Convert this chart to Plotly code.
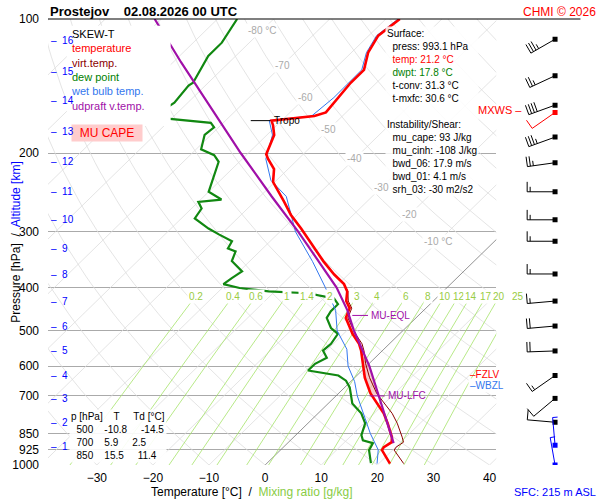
import numpy as np
import plotly.graph_objects as go

SKEW = 35.4
def sx(T, p):
    return np.asarray(T, float) + SKEW * np.log(1000.0 / np.asarray(p, float))

# ---- data ----
t_p = [993, 940, 926, 912, 889, 866, 806, 766, 728, 691, 637, 593, 554, 535, 508, 493, 468, 445, 429, 408, 393, 374, 349,
       295, 275, 257, 232, 217, 206, 201, 182, 173, 169, 165, 162, 139, 130, 119, 109, 100]
t_T = [22.0, 18.9, 18.1, 17.9, 18.4, 17.5, 14.2, 11.7, 8.8, 5.7, 1.8, -1.1, -3.8, -5.4, -8.4, -9.9, -12.5, -13.6, -15.5, -17.1, -19.0, -22.5, -26.9,
       -36.8, -41.1, -44.7, -50.3, -52.5, -55.4, -56.6, -58.7, -60.7, -61.8, -55.0, -53.6, -54.6, -54.6, -57.0, -58.3, -57.5]

td_p = [990, 926, 893, 880, 857, 806, 766, 728, 670, 647, 630, 624, 614, 593, 575, 554, 535, 508, 493, 468, 452, 436, 423, 412,
        408, 401, 393, 381, 368, 349, 332, 327, 315, 304, 295, 280, 266, 257, 254, 244, 224, 209, 202, 196, 182, 175, 171, 166,
        162, 159, 154, 141, 139, 121, 113, 100]
td_T = [18.5, 15.8, 15.2, 12.9, 11.7, 10.2, 7.7, 4.3, 0.9, -1.0, -3.3, -5.7, -9.6, -9.6, -8.6, -10.6, -10.4, -11.0, -13.3, -15.9,
        -16.4, -16.4, -18.2, -23.8, -31.1, -36.9, -40.5, -40.1, -39.5, -43.2, -44.3, -46.2, -46.8, -50.4, -53.3, -57.6, -58.2,
        -60.0, -56.3, -60.0, -62.1, -63.7, -65.7, -69.1, -71.1, -70.8, -72.2, -83.7, -85.9, -82.9, -82.4, -83.0, -82.7, -84.9,
        -84.9, -86.5]

wb_p = [993, 925, 850, 700, 650, 600, 550, 500, 450, 400, 350, 300, 250, 230, 206, 182, 169, 165, 150, 130, 119, 109, 100]
wb_T = [19.7, 17.4, 13.0, 3.8, 0.7, -3.3, -6.6, -11.7, -15.7, -21.7, -28.7, -37.2, -45.3, -51.0, -55.8, -59.0, -62.2, -55.5,
        -54.9, -55.0, -57.3, -58.6, -57.8]

pc_p = [893, 700, 600, 500, 450, 400, 350, 300, 250, 200, 150, 125, 100]
pc_T = [18.9, 7.6, 0.5, -8.7, -13.6, -19.7, -27.6, -36.7, -47.9, -61.3, -78.0, -88.6, -101.2]

mix_vals = [0.2, 0.4, 0.6, 1, 1.4, 2, 3, 4, 6, 8, 10, 12, 14, 17, 20, 25]
mix_labels = ["0.2", "0.4", "0.6", "1", "1.4", "2", "3", "4", "6", "8", "10", "12", "14", "17", "20", "25"]

p_ticks = [100, 200, 300, 400, 500, 600, 700, 850, 925, 1000]
x_ticks = [-30, -20, -10, 0, 10, 20, 30, 40]
alt_km = list(range(1, 17))
alt_p = [907, 802, 709, 630, 554, 490, 429, 374, 327, 282, 244, 209, 179, 152, 131, 112]
iso_lab_T = [-80, -70, -60, -50, -40, -30, -20, -10]
iso_lab_p = [106, 127, 150, 177, 206, 239, 275, 315]

wind_p = [111, 134, 156, 184, 210, 244, 282, 315, 373, 429, 488, 555, 630, 709, 802]
wind_dir = [240, 245, 250, 250, 262, 270, 270, 270, 270, 265, 265, 268, 235, 230, 275]
wind_kt = [35, 25, 40, 35, 25, 15, 15, 15, 15, 15, 20, 20, 15, 10, 10]
mx_p, mx_dir, mx_kt = 162, 235, 10
low_p = [903, 1000]
low_dir = [355, 350]
low_kt = [5, 5]

table_rows = [("500", "-10.8", "-14.5"), ("700", "5.9", "2.5"), ("850", "15.5", "11.4")]

FONT = "Liberation Sans, Arial, sans-serif"
fig = go.Figure()

def line(x, y, color, width, xa="x", ya="y", dash=None, fill=None, fillcolor=None):
    fig.add_trace(go.Scatter(x=x, y=y, mode="lines", line=dict(color=color, width=width, dash=dash),
                             xaxis=xa, yaxis=ya, hoverinfo="skip", showlegend=False,
                             fill=fill, fillcolor=fillcolor))

pp = np.geomspace(1000, 100, 60)
for th in range(-30, 200, 10):
    T = (th + 273.15) * (pp / 1000.0) ** 0.286 - 273.15
    line(sx(T, pp), pp, "#dddddd", 0.8)
for T0 in range(-140, 50, 10):
    line(sx([T0, T0], [1000, 100]), [1000, 100], "#777777" if T0 == 0 else "#dddddd", 0.8)
pm = np.geomspace(1000, 420, 20)
def mixT(w, p):
    e = w * p / (622.0 + w)
    l = np.log(e / 6.112)
    return 243.5 * l / (17.67 - l)
for w in mix_vals:
    line(sx(mixT(w, pm), pm), pm, "#a6e36a", 0.8)

pf = np.geomspace(700, 460, 25)
lp = lambda arr_p: np.log(np.asarray(arr_p, float))
tparc = np.interp(-np.log(pf), -lp(pc_p), pc_T)
tenv = np.interp(-np.log(pf), -lp(t_p), t_T)
line(np.concatenate([sx(tparc, pf), sx(tenv, pf)[::-1]]), np.concatenate([pf, pf[::-1]]),
     "rgba(0,0,0,0)", 0, fill="toself", fillcolor="rgba(240,170,170,0.6)")

tdi = np.interp(-lp(t_p), -lp(td_p), td_T)
e = 6.112 * np.exp(17.67 * tdi / (tdi + 243.5))
r = 0.622 * e / (np.array(t_p) - e)
tv = (np.array(t_T) + 273.15) * (1 + 0.61 * r) - 273.15
line(sx(td_T, td_p), td_p, "#118811", 2.2)
line(sx(wb_T, wb_p), wb_p, "#3377ee", 1)
line(sx(tv, t_p), t_p, "#8b0000", 1)
line(sx(t_T, t_p), t_p, "#ff0000", 2.6)
line(sx(pc_T, pc_p), pc_p, "#a010a8", 2.2)

def seg(T1, T2, p, color):
    line(sx([T1, T2], [p, p]), [p, p], color, 1)
seg(-65.5, -62, 169, "black")
seg(-11.8, -9.0, 462, "#a010a8")
seg(6.0, 8.7, 700, "#a010a8")

def ypx(p):
    return 195.0 * np.log(1000.0 / p)

def barb(p, d, kt, color):
    bx, by = 59.0, ypx(p)
    a = np.radians(d)
    u = np.array([np.sin(a), np.cos(a)])
    perp = np.array([u[1], -u[0]])
    L = 28
    line([bx, bx + L * u[0]], [by, by + L * u[1]], color, 1, xa="x2", ya="y2")
    fig.add_trace(go.Scatter(x=[bx], y=[by], mode="markers", marker=dict(color=color, size=5, symbol="square"),
                             xaxis="x2", yaxis="y2", hoverinfo="skip", showlegend=False))
    n_full = int(kt // 10)
    half = (kt % 10) >= 5
    pos = L
    for i in range(n_full):
        s = np.array([bx, by]) + pos * u
        t = s + 10 * perp
        line([s[0], t[0]], [s[1], t[1]], color, 1, xa="x2", ya="y2")
        pos -= 3
    if half:
        s = np.array([bx, by]) + pos * u
        t = s + 5 * perp
        line([s[0], t[0]], [s[1], t[1]], color, 1, xa="x2", ya="y2")

for p, d, k in zip(wind_p, wind_dir, wind_kt):
    barb(p, d, k, "black")
barb(mx_p, mx_dir, mx_kt, "red")
for p, d, k in zip(low_p, low_dir, low_kt):
    barb(p, d, k, "blue")

W, H = 600, 500
L_M, R_M, T_M, B_M = 46, 30, 16, 35
PW = W - L_M - R_M
MAIN = 450 / PW
XMIN, XMAX = -38.7, 41.2
fig.update_layout(
    width=W, height=H, margin=dict(l=L_M, r=R_M, t=T_M, b=B_M),
    paper_bgcolor="white", plot_bgcolor="white", showlegend=False,
    font=dict(family=FONT, size=11, color="black"),
    xaxis=dict(domain=[0, MAIN], range=[XMIN, XMAX], showgrid=False, zeroline=False,
               tickvals=x_ticks, ticks="", tickfont=dict(size=12), fixedrange=True, ticklabelstandoff=4),
    yaxis=dict(type="log", range=[3, 2], tickvals=p_ticks, ticktext=[str(v) for v in p_ticks],
               showgrid=True, gridcolor="#aaaaaa", gridwidth=1, zeroline=False, tickfont=dict(size=12),
               ticks="", ticklabelstandoff=8),
    xaxis2=dict(domain=[MAIN, 1], range=[0, 74], visible=False, anchor="y2"),
    yaxis2=dict(range=[0, 449], visible=False, anchor="x2"),
)

shapes = [dict(type="line", xref="paper", yref="paper", x0=0, x1=1.02, y0=1, y1=1, line=dict(color="black", width=1.2)),
          dict(type="rect", xref="paper", yref="paper", x0=0.036, x1=0.235, y0=0.76, y1=0.985,
               fillcolor="white", line=dict(width=0), layer="above")]
fig.update_layout(shapes=shapes)

ann = []
def A(x, y, text, color="black", size=11, xref="paper", yref="paper", xanchor="left", **kw):
    ann.append(dict(x=x, y=y, xref=xref, yref=yref, text=text, showarrow=False, xanchor=xanchor,
                    font=dict(color=color, size=size, family=FONT), **kw))

A(0.0, 1.0, "<b>Prostejov    02.08.2026 00 UTC</b>", size=13, yanchor="bottom", yshift=-2)
A(1.0 + 28 / PW, 1.0, "CHMI © 2026", color="red", size=12, xanchor="right", yanchor="bottom", yshift=-2)
A(1.0 + 28 / PW, -0.06, "SFC: 215 m ASL", color="blue", size=11, xanchor="right", yanchor="middle")
A(0.39, -0.06, "Temperature [°C]  /  <span style='color:#88cc44'>Mixing ratio [g/kg]</span>", size=12,
  xanchor="center", yanchor="middle")
A(-0.062, 0.5, "Pressure [hPa]  /  <span style='color:blue'>Altitude [km]</span>", size=12,
  xanchor="center", yanchor="middle", textangle=-90)

legend = ("SKEW-T<br><span style='color:red'>temperature</span><br><span style='color:#8b0000'>virt.temp.</span><br>"
          "<span style='color:green'>dew point</span><br><span style='color:#3377ee'>wet bulb temp.</span><br>"
          "<span style='color:#a010a8'>udpraft v.temp.</span>")
A(0.04, 0.985, legend, yanchor="top", align="left")
A(0.044, 0.765, "  MU CAPE  ", color="red", size=12, yanchor="top", bgcolor="#ffcccc")

surf = ("Surface:<br>  press: 993.1 hPa<br>  <span style='color:red'>temp: 21.2 °C</span><br>"
        "  <span style='color:green'>dwpt: 17.8 °C</span><br>  t-conv: 31.3 °C<br>  t-mxfc: 30.6 °C<br><br>"
        "Instability/Shear:<br>  mu_cape: 93 J/kg<br>  mu_cinh: -108 J/kg<br>  bwd_06: 17.9 m/s<br>"
        "  bwd_01: 4.1 m/s<br>  srh_03: -30 m2/s2")
A(0.645, 0.985, surf, size=10, yanchor="top", align="left", bgcolor="rgba(255,255,255,0.85)")

tbl = "p [hPa]    T     Td [°C]<br>" + "<br>".join(f"  {a}    {b}     {c}" for a, b, c in table_rows)
A(0.04, 0.065, tbl, size=10, yanchor="middle", align="left", bgcolor="rgba(255,255,255,0.9)")

for k, p in zip(alt_km, alt_p):
    A(0.002, np.log10(p), f"–  {k}", color="blue", size=10, yref="y")
for T, p in zip(iso_lab_T, iso_lab_p):
    t = f"{T} °C" if T in (-80, -10) else f"{T}"
    A(sx(T, p), np.log10(p), t, color="#aaaaaa", size=10, xref="x", yref="y", xanchor="center", bgcolor="white")
for w, lab in zip(mix_vals, mix_labels):
    pl = 418.0
    X = float(sx(mixT(w, pl), pl))
    A((X - XMIN) / (XMAX - XMIN) * MAIN, np.log10(pl), lab, color="#99cc44", size=10, yref="y",
      xanchor="center", bgcolor="white")
A(float(sx(-61.8, 169)), np.log10(169), "Tropo", size=10, xref="x", yref="y")
A(float(sx(-8.8, 462)), np.log10(462), "MU-EQL", color="#a010a8", size=10, xref="x", yref="y")
A(float(sx(8.9, 700)), np.log10(700), "MU-LFC", color="#a010a8", size=10, xref="x", yref="y")
A(0.805, np.log10(628), "–FZLV", color="red", size=10, yref="y")
A(0.805, np.log10(665), "–WBZL", color="#3377ee", size=10, yref="y", bgcolor="white")
A(0.82, np.log10(160), "MXWS –", color="red", size=11, yref="y")
fig.update_layout(annotations=ann)

fig.write_html("out.html", config={"displayModeBar": False},
               post_script="document.body.style.margin='0';document.body.style.overflow='hidden';")
